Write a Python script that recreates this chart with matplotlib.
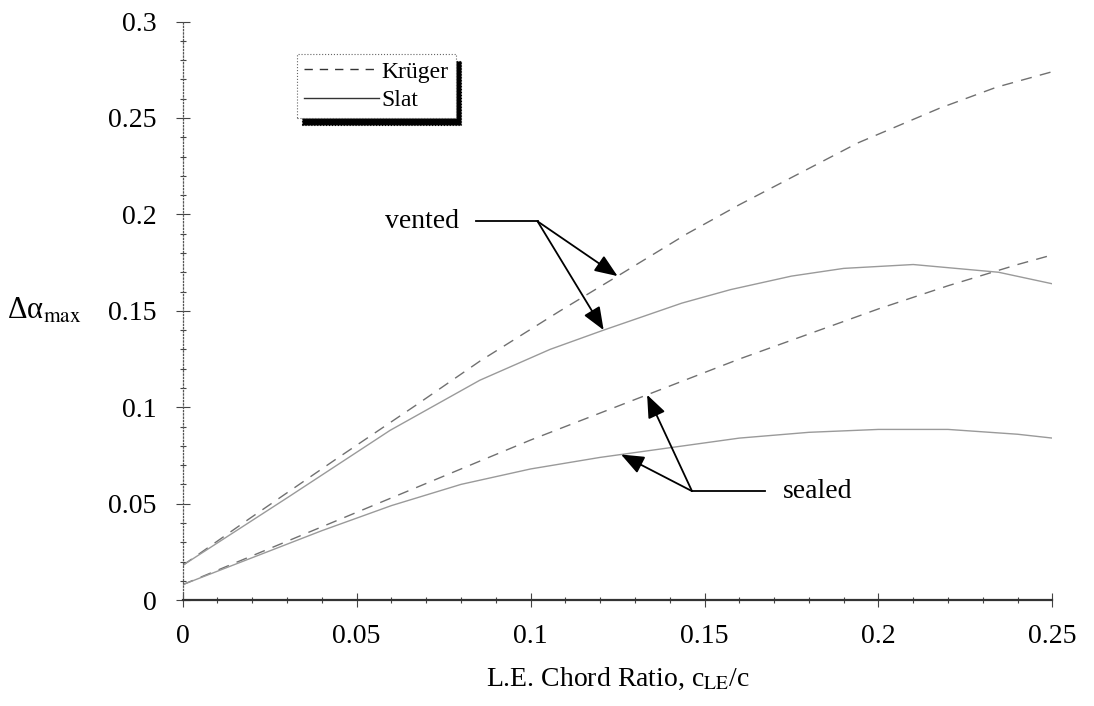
import numpy as np
import matplotlib
matplotlib.use("Agg")
import matplotlib.pyplot as plt
from matplotlib.lines import Line2D
from matplotlib.ticker import MultipleLocator, FormatStrFormatter

plt.rcParams['font.family'] = ['Liberation Serif', 'DejaVu Serif']
plt.rcParams['mathtext.fontset'] = 'stix'

# leading-edge device data, delta alpha_max vs chord ratio
kruger_vented_x = [0, 0.019, 0.044, 0.067, 0.0855, 0.1085, 0.125, 0.145, 0.16, 0.194, 0.2175, 0.234, 0.25]
kruger_vented_y = [0.018, 0.042, 0.073, 0.101, 0.124, 0.150, 0.168, 0.190, 0.205, 0.237, 0.255, 0.266, 0.274]

slat_vented_x = [0, 0.03, 0.0596, 0.0854, 0.1056, 0.121, 0.1435, 0.1575, 0.175, 0.19, 0.21, 0.2345, 0.25]
slat_vented_y = [0.018, 0.053, 0.088, 0.114, 0.130, 0.140, 0.154, 0.161, 0.168, 0.172, 0.174, 0.170, 0.164]

kruger_sealed_x = [0, 0.02, 0.04, 0.06, 0.08, 0.10, 0.12, 0.14, 0.16, 0.18, 0.20, 0.22, 0.24, 0.25]
kruger_sealed_y = [0.008, 0.023, 0.038, 0.053, 0.068, 0.083, 0.097, 0.111, 0.125, 0.138, 0.151, 0.163, 0.174, 0.179]

slat_sealed_x = [0, 0.02, 0.04, 0.06, 0.08, 0.10, 0.12, 0.14, 0.16, 0.18, 0.20, 0.22, 0.24, 0.25]
slat_sealed_y = [0.008, 0.022, 0.036, 0.049, 0.060, 0.068, 0.074, 0.079, 0.084, 0.087, 0.0885, 0.0885, 0.086, 0.084]

# callouts: junction point, line end, arrow target x on each curve
vented_join = (0.102, 0.1964)
vented_start = 0.0843
vented_tips_x = [0.125, 0.121]
sealed_join = (0.1464, 0.0565)
sealed_end = 0.1674
sealed_tips_x = [0.1335, 0.126]

fig = plt.figure(figsize=(10.94, 7.06), dpi=100)
ax = fig.add_axes([0.167, 0.150, 0.795, 0.8195])

dash = (0, (8, 6))
ax.plot(kruger_vented_x, kruger_vented_y, color='#707070', lw=1.0, linestyle=dash)
ax.plot(slat_vented_x, slat_vented_y, color='#9a9a9a', lw=1.0)
ax.plot(kruger_sealed_x, kruger_sealed_y, color='#707070', lw=1.0, linestyle=dash)
ax.plot(slat_sealed_x, slat_sealed_y, color='#9a9a9a', lw=1.0)

ax.set_xlim(0, 0.25)
ax.set_ylim(0, 0.3)
ax.xaxis.set_major_locator(MultipleLocator(0.05))
ax.xaxis.set_minor_locator(MultipleLocator(0.01))
ax.yaxis.set_major_locator(MultipleLocator(0.05))
ax.yaxis.set_minor_locator(MultipleLocator(0.01))
ax.xaxis.set_major_formatter(FormatStrFormatter('%g'))
ax.yaxis.set_major_formatter(FormatStrFormatter('%g'))
ax.tick_params(which='major', direction='inout', length=10, width=0.8, color='#444', labelsize=20, pad=12)
ax.tick_params(which='minor', direction='inout', length=5, width=0.8, color='#444')
ax.tick_params(axis='y', which='major', pad=14)

for s in ['top', 'right']:
    ax.spines[s].set_visible(False)
ax.spines['left'].set_linestyle(':')
ax.spines['left'].set_color('#555')
ax.spines['left'].set_linewidth(0.9)
ax.spines['bottom'].set_color('#333')
ax.spines['bottom'].set_linewidth(1.6)

ax.set_xlabel(r'L.E. Chord Ratio, c$_{\rm LE}$/c', fontsize=20, labelpad=12)
ax.set_ylabel('Δα$_{\\rm max}$', fontsize=22, rotation=0, ha='center', va='center')
ax.yaxis.set_label_coords(-0.159, 0.5)

arrow = dict(arrowstyle='-|>,head_length=0.7,head_width=0.28', color='black', lw=1.3,
             mutation_scale=20, shrinkA=0, shrinkB=0)

# vented callout
ax.plot([vented_start, vented_join[0]], [vented_join[1]] * 2, color='black', lw=1.3)
ax.text(vented_start - 0.005, vented_join[1], 'vented', fontsize=20, ha='right', va='center')
for tx, (cx, cy) in zip(vented_tips_x, [(kruger_vented_x, kruger_vented_y), (slat_vented_x, slat_vented_y)]):
    ax.annotate('', xy=(tx, np.interp(tx, cx, cy)), xytext=vented_join, arrowprops=arrow)

# sealed callout
ax.plot([sealed_join[0], sealed_end], [sealed_join[1]] * 2, color='black', lw=1.3)
ax.text(sealed_end + 0.005, sealed_join[1], 'sealed', fontsize=20, ha='left', va='center')
for tx, (cx, cy) in zip(sealed_tips_x, [(kruger_sealed_x, kruger_sealed_y), (slat_sealed_x, slat_sealed_y)]):
    ax.annotate('', xy=(tx, np.interp(tx, cx, cy)), xytext=sealed_join, arrowprops=arrow)

handles = [Line2D([], [], color='#333', lw=1.0, linestyle=(0, (6, 5))),
           Line2D([], [], color='#333', lw=1.0)]
leg = ax.legend(handles, ['Krüger', 'Slat'], loc='upper left', bbox_to_anchor=(0.131, 0.944),
                borderaxespad=0, fontsize=17, handlelength=3.2, handletextpad=0.1,
                borderpad=0.3, labelspacing=0.3, fancybox=False, framealpha=1,
                shadow={'ox': 4, 'oy': -5, 'facecolor': 'black', 'edgecolor': 'black', 'alpha': 1})
leg.get_frame().set_edgecolor('#666')
leg.get_frame().set_linewidth(0.8)
leg.get_frame().set_linestyle(':')

fig.savefig('out.png', dpi=100)
